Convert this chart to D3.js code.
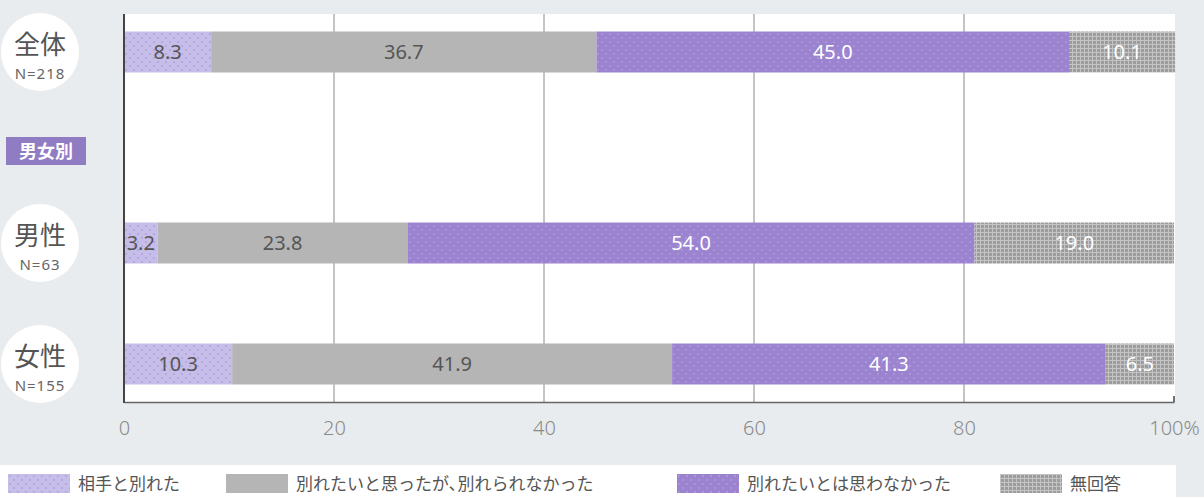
<!DOCTYPE html>
<html>
<head>
<meta charset="utf-8">
<script src="https://cdn.jsdelivr.net/npm/d3@7"></script>
<style>
  html, body { margin: 0; padding: 0; background: #e8ecee; }
  svg { display: block; font-family: "Noto Sans CJK JP", "Noto Sans", sans-serif; }
</style>
</head>
<body>
<svg id="chart"></svg>
<script>
// data
const rows = ["全体", "男性", "女性"];
const rowN = ["N=218", "N=63", "N=155"];
const legendLabels = ["相手と別れた", "別れたいと思ったが､別れられなかった", "別れたいとは思わなかった", "無回答"];
const partedValues = [8.3, 3.2, 10.3];
const couldNotValues = [36.7, 23.8, 41.9];
const didNotWantValues = [45.0, 54.0, 41.3];
const noAnswerValues = [10.1, 19.0, 6.5];
const xTicks = [0, 20, 40, 60, 80, 100];
const groupLabel = "男女別";

const w = 1204;
const h = 497;
const padLeft = 124, padRight = 1174, padTop = 14, padBottom = 402;

const svg = d3.select('#chart').attr('width', w).attr('height', h);

// patterns
const defs = svg.append('defs');
const dots = (id, bg, dot) => {
    const p = defs.append('pattern').attr('id', id).attr('patternUnits', 'userSpaceOnUse')
        .attr('width', 8).attr('height', 8);
    p.append('rect').attr('width', 8).attr('height', 8).attr('fill', bg);
    p.append('circle').attr('cx', 2).attr('cy', 2).attr('r', 1.1).attr('fill', dot);
    p.append('circle').attr('cx', 6).attr('cy', 6).attr('r', 1.1).attr('fill', dot);
};
dots('pLight', '#c6bde9', '#b0a4de');
dots('pPurple', '#9b83d0', '#ad98dc');
const hatch = defs.append('pattern').attr('id', 'pHatch').attr('patternUnits', 'userSpaceOnUse')
    .attr('width', 4).attr('height', 4);
hatch.append('rect').attr('width', 4).attr('height', 4).attr('fill', '#9c9c9c');
hatch.append('path').attr('d', 'M0 0.5H4M0.5 0V4').attr('stroke', '#c4c4c4').attr('stroke-width', 1);

const fills = ['url(#pLight)', '#b5b5b5', 'url(#pPurple)', 'url(#pHatch)'];
const labelColors = ['#555', '#555', '#fff', '#fff'];

// scales
const xScale = d3.scaleLinear().domain([0, 100]).range([padLeft, padRight]);
const yScale = d3.scaleOrdinal().domain(["全体", groupLabel, "男性", "女性"]).range([52, 151, 243, 364]);
const barH = 41;

// plot area
svg.append('rect').attr('x', padLeft).attr('y', padTop).attr('width', padRight - padLeft + 1)
    .attr('height', padBottom - padTop).attr('fill', '#fff');

// gridlines
svg.append('g').selectAll('line').data(xTicks.slice(1, -1)).enter().append('line')
    .attr('x1', d => xScale(d)).attr('x2', d => xScale(d))
    .attr('y1', padTop).attr('y2', padBottom)
    .attr('stroke', '#8a8a8a').attr('stroke-width', 1);

// stacked data
const table = rows.map((r, i) => ({
    row: r,
    values: [partedValues[i], couldNotValues[i], didNotWantValues[i], noAnswerValues[i]]
}));
const stacked = table.map(d => {
    let acc = 0;
    return d.values.map((v, k) => { const s = acc; acc += v; return { row: d.row, k: k, v: v, x0: s, x1: acc }; });
});

const segs = svg.append('g').selectAll('g').data(stacked).enter().append('g');
segs.selectAll('rect').data(d => d).enter().append('rect')
    .attr('x', d => xScale(d.x0))
    .attr('width', d => xScale(d.x1) - xScale(d.x0))
    .attr('y', d => yScale(d.row) - barH / 2)
    .attr('height', barH)
    .attr('fill', d => fills[d.k]);
segs.selectAll('text').data(d => d).enter().append('text')
    .attr('x', d => xScale((d.x0 + d.x1) / 2))
    .attr('y', d => yScale(d.row) + 7)
    .attr('text-anchor', 'middle')
    .attr('font-size', 20)
    .attr('font-family', '"Noto Sans", sans-serif')
    .attr('fill', d => labelColors[d.k])
    .text(d => d.v.toFixed(1));

// axes lines
svg.append('line').attr('x1', padLeft).attr('x2', padLeft).attr('y1', padTop).attr('y2', padBottom + 1)
    .attr('stroke', '#444').attr('stroke-width', 2);
const xAxis = d3.axisBottom(xScale).tickValues(xTicks).tickSize(0)
    .tickFormat(d => d === 100 ? '100%' : d);
const gx = svg.append('g').attr('transform', 'translate(0,' + padBottom + ')').call(xAxis);
gx.select('.domain').attr('stroke', '#666').attr('stroke-width', 1.5);
gx.selectAll('text').attr('font-size', 20).attr('fill', '#8a8a8a').attr('dy', 0).attr('y', 33)
    .attr('font-family', '"Noto Sans", sans-serif').attr('font-weight', 300);
svg.append('line').attr('x1', padRight).attr('x2', padRight).attr('y1', padBottom - 6).attr('y2', padBottom)
    .attr('stroke', '#444').attr('stroke-width', 1.5);

// row labels in circles
const lab = svg.append('g').selectAll('g').data(rows).enter().append('g')
    .attr('transform', d => 'translate(40,' + yScale(d) + ')');
lab.append('circle').attr('r', 39).attr('fill', '#fff');
lab.append('text').attr('text-anchor', 'middle').attr('y', 2).attr('font-size', 26).attr('fill', '#555')
    .text(d => d);
lab.append('text').attr('text-anchor', 'middle').attr('y', 27).attr('font-size', 15)
    .attr('font-family', '"Noto Sans", sans-serif').attr('letter-spacing', 1).attr('fill', '#666')
    .text((d, i) => rowN[i]);

// group badge
svg.append('rect').attr('x', 6).attr('y', yScale(groupLabel) - 14).attr('width', 80).attr('height', 28)
    .attr('fill', '#907cc2');
svg.append('text').attr('x', 46).attr('y', yScale(groupLabel) + 7).attr('text-anchor', 'middle')
    .attr('font-size', 18).attr('font-weight', 'bold').attr('fill', '#fff').text(groupLabel);

// legend
svg.append('rect').attr('x', 0).attr('y', 465).attr('width', 1176).attr('height', 32).attr('fill', '#fff');
const legendX = [8, 226, 677, 1000];
const lg = svg.append('g').selectAll('g').data(legendLabels).enter().append('g')
    .attr('transform', (d, i) => 'translate(' + legendX[i] + ',474)');
lg.append('rect').attr('width', 62).attr('height', 19).attr('fill', (d, i) => fills[i]);
lg.append('text').attr('x', 70).attr('y', 16).attr('font-size', 17).attr('fill', '#555').text(d => d);
</script>
</body>
</html>
